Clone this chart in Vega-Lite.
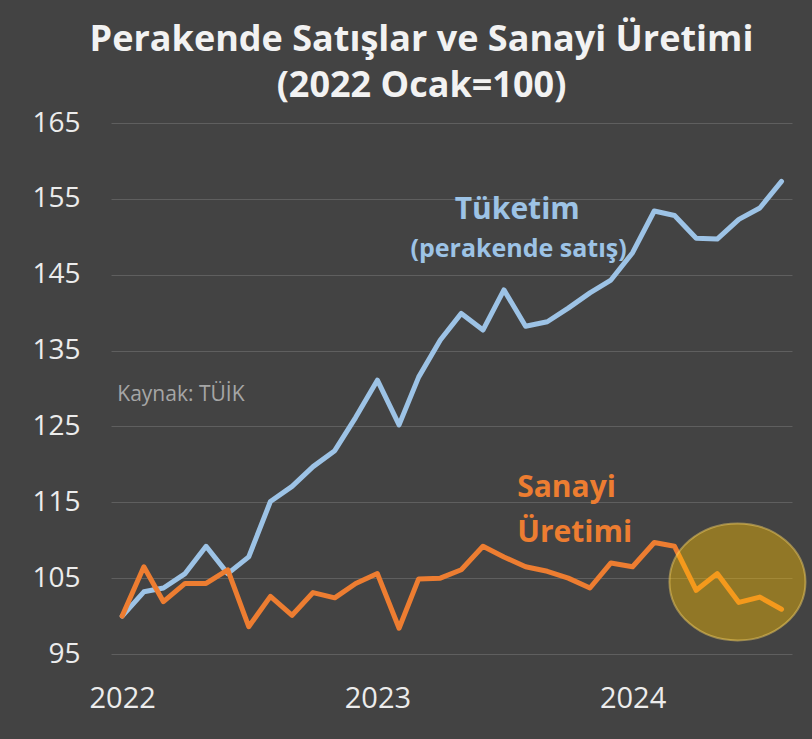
{
  "$schema": "https://vega.github.io/schema/vega-lite/v6.json",
  "width": 681,
  "height": 531,
  "autosize": "none",
  "padding": {"left": 111, "top": 123, "right": 20, "bottom": 85},
  "background": "#434343",
  "title": {
    "text": ["Perakende Satışlar ve Sanayi Üretimi", "(2022 Ocak=100)"],
    "font": "Open Sans",
    "fontWeight": "bold",
    "fontSize": 36,
    "lineHeight": 46,
    "color": "#f2f2f2",
    "anchor": "middle",
    "frame": "group",
    "dx": -30,
    "offset": 4
  },
  "config": {
    "view": {"stroke": null},
    "axis": {"labelFont": "Open Sans", "labelColor": "#ececec", "domain": false, "ticks": false, "title": null, "labelFlush": false, "labelOverlap": false, "labelBound": false}
  },
  "datasets": {
    "series": [
      {"date": "2022-01-01", "tuketim": 100.0, "sanayi": 100.0},
      {"date": "2022-02-01", "tuketim": 103.2, "sanayi": 106.5},
      {"date": "2022-03-01", "tuketim": 103.7, "sanayi": 101.9},
      {"date": "2022-04-01", "tuketim": 105.6, "sanayi": 104.3},
      {"date": "2022-05-01", "tuketim": 109.2, "sanayi": 104.3},
      {"date": "2022-06-01", "tuketim": 105.6, "sanayi": 106.1},
      {"date": "2022-07-01", "tuketim": 107.8, "sanayi": 98.6},
      {"date": "2022-08-01", "tuketim": 115.1, "sanayi": 102.6},
      {"date": "2022-09-01", "tuketim": 117.1, "sanayi": 100.1},
      {"date": "2022-10-01", "tuketim": 119.7, "sanayi": 103.1},
      {"date": "2022-11-01", "tuketim": 121.8, "sanayi": 102.4},
      {"date": "2022-12-01", "tuketim": 126.2, "sanayi": 104.3},
      {"date": "2023-01-01", "tuketim": 131.1, "sanayi": 105.6},
      {"date": "2023-02-01", "tuketim": 125.2, "sanayi": 98.4},
      {"date": "2023-03-01", "tuketim": 131.5, "sanayi": 104.9},
      {"date": "2023-04-01", "tuketim": 136.4, "sanayi": 105.0},
      {"date": "2023-05-01", "tuketim": 139.9, "sanayi": 106.1},
      {"date": "2023-06-01", "tuketim": 137.7, "sanayi": 109.2},
      {"date": "2023-07-01", "tuketim": 143.0, "sanayi": 107.8},
      {"date": "2023-08-01", "tuketim": 138.2, "sanayi": 106.5},
      {"date": "2023-09-01", "tuketim": 138.8, "sanayi": 105.9},
      {"date": "2023-10-01", "tuketim": 140.6, "sanayi": 105.0},
      {"date": "2023-11-01", "tuketim": 142.6, "sanayi": 103.7},
      {"date": "2023-12-01", "tuketim": 144.3, "sanayi": 107.0},
      {"date": "2024-01-01", "tuketim": 147.9, "sanayi": 106.5},
      {"date": "2024-02-01", "tuketim": 153.4, "sanayi": 109.7},
      {"date": "2024-03-01", "tuketim": 152.8, "sanayi": 109.2},
      {"date": "2024-04-01", "tuketim": 149.8, "sanayi": 103.4},
      {"date": "2024-05-01", "tuketim": 149.7, "sanayi": 105.6},
      {"date": "2024-06-01", "tuketim": 152.3, "sanayi": 101.8},
      {"date": "2024-07-01", "tuketim": 153.8, "sanayi": 102.5},
      {"date": "2024-08-01", "tuketim": 157.3, "sanayi": 100.9}
    ],
    "highlight": [{"date": "2024-05-30", "value": 104.5}],
    "tuketimLabel": [{"date": "2023-07-20", "value": 152.3, "text": "Tüketim"}],
    "tuketimSub": [{"date": "2023-07-22", "value": 147.3, "text": "(perakende satış)"}],
    "sanayiLabel": [
      {"date": "2023-07-20", "value": 115.7, "text": "Sanayi"},
      {"date": "2023-07-20", "value": 109.8, "text": "Üretimi"}
    ],
    "source": [{"date": "2021-12-25", "value": 128.3, "text": "Kaynak: TÜİK"}]
  },
  "layer": [
    {
      "data": {"name": "series"},
      "mark": {"type": "line", "strokeWidth": 5, "strokeCap": "round", "strokeJoin": "round", "color": "#9DC3E6"},
      "encoding": {
        "x": {
          "field": "date", "type": "temporal",
          "scale": {"type": "utc", "domain": [{"year": 2021, "month": 12, "date": 16, "utc": true}, {"year": 2024, "month": 8, "date": 16, "utc": true}]},
          "axis": {
            "values": [{"year": 2022, "month": 1, "date": 1, "utc": true}, {"year": 2023, "month": 1, "date": 1, "utc": true}, {"year": 2024, "month": 1, "date": 1, "utc": true}],
            "format": "%Y", "grid": false, "labelFontSize": 29, "labelPadding": 30
          }
        },
        "y": {
          "field": "tuketim", "type": "quantitative",
          "scale": {"domain": [95, 165], "nice": false, "zero": false},
          "axis": {"values": [95, 105, 115, 125, 135, 145, 155, 165], "grid": true, "gridColor": "#5f5f5f", "gridWidth": 1.2, "labelFontSize": 28, "labelPadding": 31}
        }
      }
    },
    {
      "data": {"name": "series"},
      "mark": {"type": "line", "strokeWidth": 5, "strokeCap": "round", "strokeJoin": "round", "color": "#ED7D31"},
      "encoding": {
        "x": {"field": "date", "type": "temporal"},
        "y": {"field": "sanayi", "type": "quantitative"}
      }
    },
    {
      "data": {"name": "highlight"},
      "mark": {"type": "point", "shape": "M -1 0 A 1 0.86 0 1 0 1 0 A 1 0.86 0 1 0 -1 0 Z", "size": 18496, "filled": true, "fill": "#FFC000", "fillOpacity": 0.42, "stroke": "#FFD966", "strokeOpacity": 0.45, "strokeWidth": 2},
      "encoding": {
        "x": {"field": "date", "type": "temporal"},
        "y": {"field": "value", "type": "quantitative"}
      }
    },
    {
      "data": {"name": "tuketimLabel"},
      "mark": {"type": "text", "font": "Open Sans", "fontWeight": "bold", "fontSize": 30, "color": "#9DC3E6", "align": "center", "baseline": "alphabetic"},
      "encoding": {
        "x": {"field": "date", "type": "temporal"},
        "y": {"field": "value", "type": "quantitative"},
        "text": {"field": "text"}
      }
    },
    {
      "data": {"name": "tuketimSub"},
      "mark": {"type": "text", "font": "Open Sans", "fontWeight": "bold", "fontSize": 25, "color": "#9DC3E6", "align": "center", "baseline": "alphabetic"},
      "encoding": {
        "x": {"field": "date", "type": "temporal"},
        "y": {"field": "value", "type": "quantitative"},
        "text": {"field": "text"}
      }
    },
    {
      "data": {"name": "sanayiLabel"},
      "mark": {"type": "text", "font": "Open Sans", "fontWeight": "bold", "fontSize": 30, "color": "#ED7D31", "align": "left", "baseline": "alphabetic"},
      "encoding": {
        "x": {"field": "date", "type": "temporal"},
        "y": {"field": "value", "type": "quantitative"},
        "text": {"field": "text"}
      }
    },
    {
      "data": {"name": "source"},
      "mark": {"type": "text", "font": "Open Sans", "fontSize": 21, "color": "#a6a6a6", "align": "left", "baseline": "alphabetic"},
      "encoding": {
        "x": {"field": "date", "type": "temporal"},
        "y": {"field": "value", "type": "quantitative"},
        "text": {"field": "text"}
      }
    }
  ]
}
